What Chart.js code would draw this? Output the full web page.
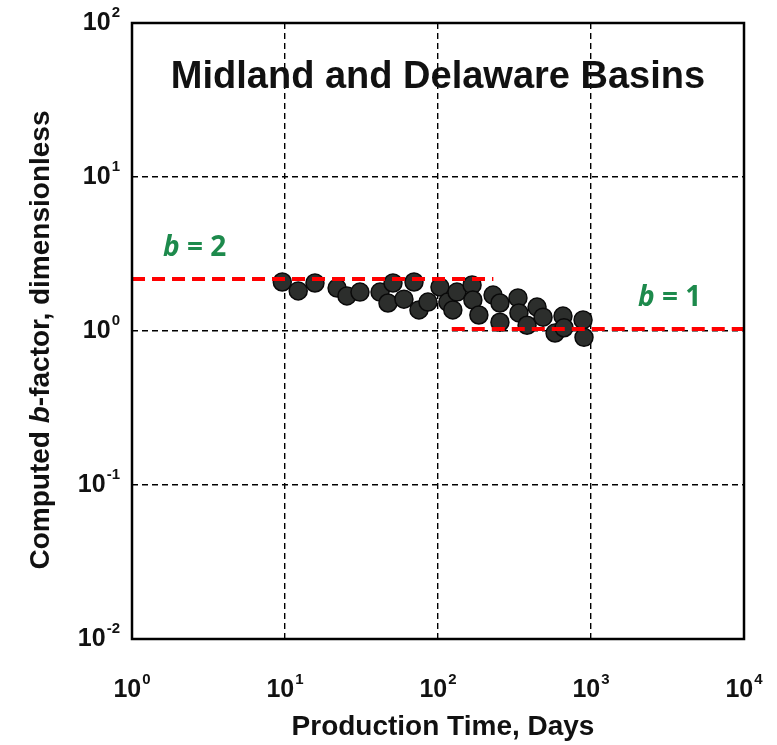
<!DOCTYPE html>
<html>
<head>
<meta charset="utf-8">
<script src="https://cdn.jsdelivr.net/npm/chart.js@4"></script>
<style>
  body { margin: 0; background: #fff; }
  #wrap { width: 777px; height: 745px; }
</style>
</head>
<body>
<div id="wrap"><canvas id="bChart"></canvas></div>
<script>
// Computed b-factor vs production time (log-log)
const timeDays = [9.6, 12.2, 15.7, 21.9, 25.4, 30.9, 41.8, 50.8, 47.1, 59.9, 69.7, 75.1,
  86, 103, 116, 125, 133, 167, 169, 185, 229, 254, 254, 333, 338, 382, 444, 486,
  582, 656, 666, 887, 900];
const bFactor = [2.08, 1.82, 2.05, 1.90, 1.69, 1.79, 1.79, 2.05, 1.52, 1.61, 2.08, 1.37,
  1.54, 1.93, 1.54, 1.37, 1.79, 1.99, 1.59, 1.27, 1.71, 1.52, 1.14, 1.64, 1.31, 1.09,
  1.43, 1.23, 0.97, 1.25, 1.05, 1.18, 0.91];

// reference b lines
const bTwoX = [1, 230];
const bTwoY = [2.18, 2.18];
const bOneX = [123, 10000];
const bOneY = [1.03, 1.03];

// decade ticks and their exponents
const xTicks = [1, 10, 100, 1000, 10000];
const xExp = ['0', '1', '2', '3', '4'];
const yTicks = [0.01, 0.1, 1, 10, 100];
const yExp = ['-2', '-1', '0', '1', '2'];

const FONT = '"Liberation Sans", Arial, sans-serif';
const GREEN = '#1d8a4c';

function pts(xs, ys) {
  return xs.map((x, i) => ({ x: x, y: ys[i] }));
}

// "10" with a raised exponent
function powerLabel(ctx, x, y, exp, align) {
  ctx.font = 'bold 25px ' + FONT;
  const wBase = ctx.measureText('10').width;
  ctx.font = 'bold 15px ' + FONT;
  const wExp = ctx.measureText(exp).width;
  const total = wBase + 1 + wExp;
  let left = align === 'right' ? x - total : x - total / 2;
  ctx.textAlign = 'left';
  ctx.textBaseline = 'middle';
  ctx.font = 'bold 25px ' + FONT;
  ctx.fillText('10', left, y);
  ctx.font = 'bold 15px ' + FONT;
  ctx.fillText(exp, left + wBase + 1, y - 10);
}

const overlay = {
  id: 'overlay',
  afterDraw(chart) {
    const ctx = chart.ctx;
    const a = chart.chartArea;
    const xs = chart.scales.x, ys = chart.scales.y;
    ctx.save();

    // frame
    ctx.strokeStyle = '#000';
    ctx.lineWidth = 2.5;
    ctx.strokeRect(a.left, a.top, a.right - a.left, a.bottom - a.top);

    ctx.fillStyle = '#111';
    xTicks.forEach((v, i) => powerLabel(ctx, xs.getPixelForValue(v), 690, xExp[i], 'center'));
    yTicks.forEach((v, i) => powerLabel(ctx, 120, ys.getPixelForValue(v), yExp[i], 'right'));

    // axis titles
    ctx.font = 'bold 28px ' + FONT;
    ctx.textAlign = 'center';
    ctx.textBaseline = 'middle';
    ctx.fillText('Production Time, Days', 443, 727);

    ctx.save();
    ctx.translate(41, 340);
    ctx.rotate(-Math.PI / 2);
    const p1 = 'Computed ', p2 = 'b', p3 = '-factor, dimensionless';
    ctx.font = 'bold 28px ' + FONT;
    const w1 = ctx.measureText(p1).width, w3 = ctx.measureText(p3).width;
    ctx.font = 'bold italic 28px ' + FONT;
    const w2 = ctx.measureText(p2).width;
    let sx = -(w1 + w2 + w3) / 2;
    ctx.textAlign = 'left';
    ctx.font = 'bold 28px ' + FONT;
    ctx.fillText(p1, sx, 0);
    ctx.font = 'bold italic 28px ' + FONT;
    ctx.fillText(p2, sx + w1, 0);
    ctx.font = 'bold 28px ' + FONT;
    ctx.fillText(p3, sx + w1 + w2, 0);
    ctx.restore();

    // plot title
    ctx.textAlign = 'center';
    ctx.font = 'bold 38px ' + FONT;
    ctx.fillText('Midland and Delaware Basins', 438, 78);

    // b labels
    ctx.fillStyle = GREEN;
    const bLabel = (txt, x, y) => {
      ctx.textAlign = 'left';
      ctx.font = 'bold italic 28px "Open Sans", ' + FONT;
      ctx.fillText('b', x, y);
      const wb = ctx.measureText('b').width;
      ctx.font = 'bold 28px "Open Sans", ' + FONT;
      ctx.fillText(txt, x + wb, y);
    };
    bLabel(' = 2', 163, 248);
    bLabel(' = 1', 638, 298);
    ctx.restore();
  }
};

new Chart(document.getElementById('bChart'), {
  type: 'scatter',
  data: {
    datasets: [
      {
        data: pts(bTwoX, bTwoY),
        showLine: true,
        borderColor: '#ff0000',
        borderWidth: 4,
        borderDash: [13, 7],
        pointRadius: 0,
        order: 0
      },
      {
        data: pts(bOneX, bOneY),
        showLine: true,
        borderColor: '#ff0000',
        borderWidth: 4,
        borderDash: [13, 7],
        pointRadius: 0,
        order: 0
      },
      {
        data: pts(timeDays, bFactor),
        pointRadius: 9,
        pointBackgroundColor: '#2c2e2c',
        pointBorderColor: '#0a0a0a',
        pointBorderWidth: 1.5,
        order: 1
      }
    ]
  },
  options: {
    responsive: true,
    maintainAspectRatio: false,
    animation: false,
    layout: { padding: { top: 23, right: 33, left: 0, bottom: 0 } },
    plugins: { legend: { display: false }, tooltip: { enabled: false } },
    scales: {
      x: {
        type: 'logarithmic',
        min: 1,
        max: 10000,
        afterBuildTicks: s => { s.ticks = xTicks.map(v => ({ value: v })); },
        afterFit: s => { s.height = 106; },
        ticks: { display: false },
        grid: { color: '#000', lineWidth: 1.4, drawTicks: false },
        border: { display: false, dash: [6, 4] }
      },
      y: {
        type: 'logarithmic',
        min: 0.01,
        max: 100,
        afterBuildTicks: s => { s.ticks = yTicks.map(v => ({ value: v })); },
        afterFit: s => { s.width = 132; },
        ticks: { display: false },
        grid: { color: '#000', lineWidth: 1.4, drawTicks: false },
        border: { display: false, dash: [6, 4] }
      }
    }
  },
  plugins: [overlay]
});
</script>
</body>
</html>
